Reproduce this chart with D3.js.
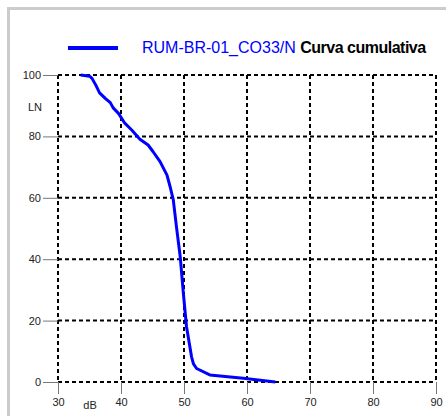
<!DOCTYPE html>
<html>
<head>
<meta charset="utf-8">
<script src="https://cdn.jsdelivr.net/npm/d3@7"></script>
<style>
  body { margin: 0; background: #fff; }
  svg { display: block; font-family: "Liberation Sans", Arial, sans-serif; }
</style>
</head>
<body>
<svg id="chart" width="446" height="416"></svg>
<script>
// cumulative curve
const dbValues = [33.6, 35.0, 35.4, 36.0, 36.6, 37.5, 38.3, 38.8, 39.6, 40.6, 41.7, 43.0, 44.3, 45.1, 46.2, 47.3, 47.8, 48.3, 48.8, 49.4, 49.9, 50.4, 51.2, 51.5, 52.0, 54.1, 59.4, 64.5];
const lnValues = [100, 99.6, 98.9, 96.7, 94.2, 92.4, 91.0, 89.2, 87.5, 84.3, 82.1, 79.1, 77.2, 75.0, 71.8, 67.4, 63.6, 59.3, 50.6, 40.8, 28.9, 18.0, 8.2, 5.9, 4.4, 2.3, 1.2, 0];
const xTicks = [30, 40, 50, 60, 70, 80, 90];
const yTicks = [0, 20, 40, 60, 80, 100];
const seriesName = 'RUM-BR-01_CO33/N';
const legendTitle = 'Curva cumulativa';

const data = dbValues.map((d, i) => ({ x: d, y: lnValues[i] }));

const svg = d3.select('#chart');
const margin = { top: 75, left: 58 };

// outer frame
svg.append('rect')
  .attr('x', 8.5).attr('y', 8.5)
  .attr('width', 460).attr('height', 440)
  .attr('fill', 'none')
  .attr('stroke', '#cccccc')
  .attr('stroke-width', 3);

const x = d3.scaleLinear().domain([30, 90]).range([margin.left, 436]);
const y = d3.scaleLinear().domain([0, 100]).range([382, margin.top]);

// grid
const grid = svg.append('g');
grid.selectAll('.vg').data(xTicks).join('line')
  .attr('x1', d => x(d)).attr('x2', d => x(d))
  .attr('y1', y(100)).attr('y2', y(0))
  .attr('stroke', '#000').attr('stroke-width', 2)
  .attr('stroke-dasharray', '4,3');
grid.selectAll('.hg').data(yTicks).join('line')
  .attr('x1', x(30)).attr('x2', x(90))
  .attr('y1', d => y(d)).attr('y2', d => y(d))
  .attr('stroke', '#000').attr('stroke-width', 2)
  .attr('stroke-dasharray', '4,3');

// axes
const xAxis = svg.append('g')
  .attr('transform', `translate(0,${y(0)})`)
  .call(d3.axisBottom(x).tickValues(xTicks).tickSize(12).tickPadding(4));
const yAxis = svg.append('g')
  .attr('transform', `translate(${x(30)},0)`)
  .call(d3.axisLeft(y).tickValues(yTicks).tickSize(15).tickPadding(2));
[xAxis, yAxis].forEach(a => {
  a.select('.domain').remove();
  a.selectAll('.tick line').attr('stroke', '#777').attr('stroke-width', 1);
  a.selectAll('.tick text')
    .attr('fill', '#222')
    .style('font-size', '11px')
    .style('font-family', '"Liberation Sans", Arial, sans-serif');
});

svg.append('text')
  .attr('x', 35).attr('y', 111)
  .attr('text-anchor', 'middle')
  .attr('fill', '#222').style('font-size', '11px')
  .text('LN');
svg.append('text')
  .attr('x', 90).attr('y', 409)
  .attr('text-anchor', 'middle')
  .attr('fill', '#222').style('font-size', '11px')
  .text('dB');

// curve
const line = d3.line().x(d => x(d.x)).y(d => y(d.y));
svg.append('path')
  .datum(data)
  .attr('fill', 'none')
  .attr('stroke', '#0000ff')
  .attr('stroke-width', 3)
  .attr('stroke-linejoin', 'round')
  .attr('d', line);

// legend
const legend = svg.append('g').attr('transform', 'translate(68,48)');
legend.append('line')
  .attr('x1', 0).attr('x2', 50)
  .attr('y1', 0).attr('y2', 0)
  .attr('stroke', '#0000ff').attr('stroke-width', 4);
const lt = legend.append('text')
  .attr('x', 74).attr('y', 5)
  .style('font-size', '16px');
lt.append('tspan').attr('fill', '#0000ff').text(seriesName + ' ');
lt.append('tspan').attr('fill', '#000').attr('font-weight', 'bold')
  .attr('letter-spacing', '-0.5').text(legendTitle);
</script>
</body>
</html>
